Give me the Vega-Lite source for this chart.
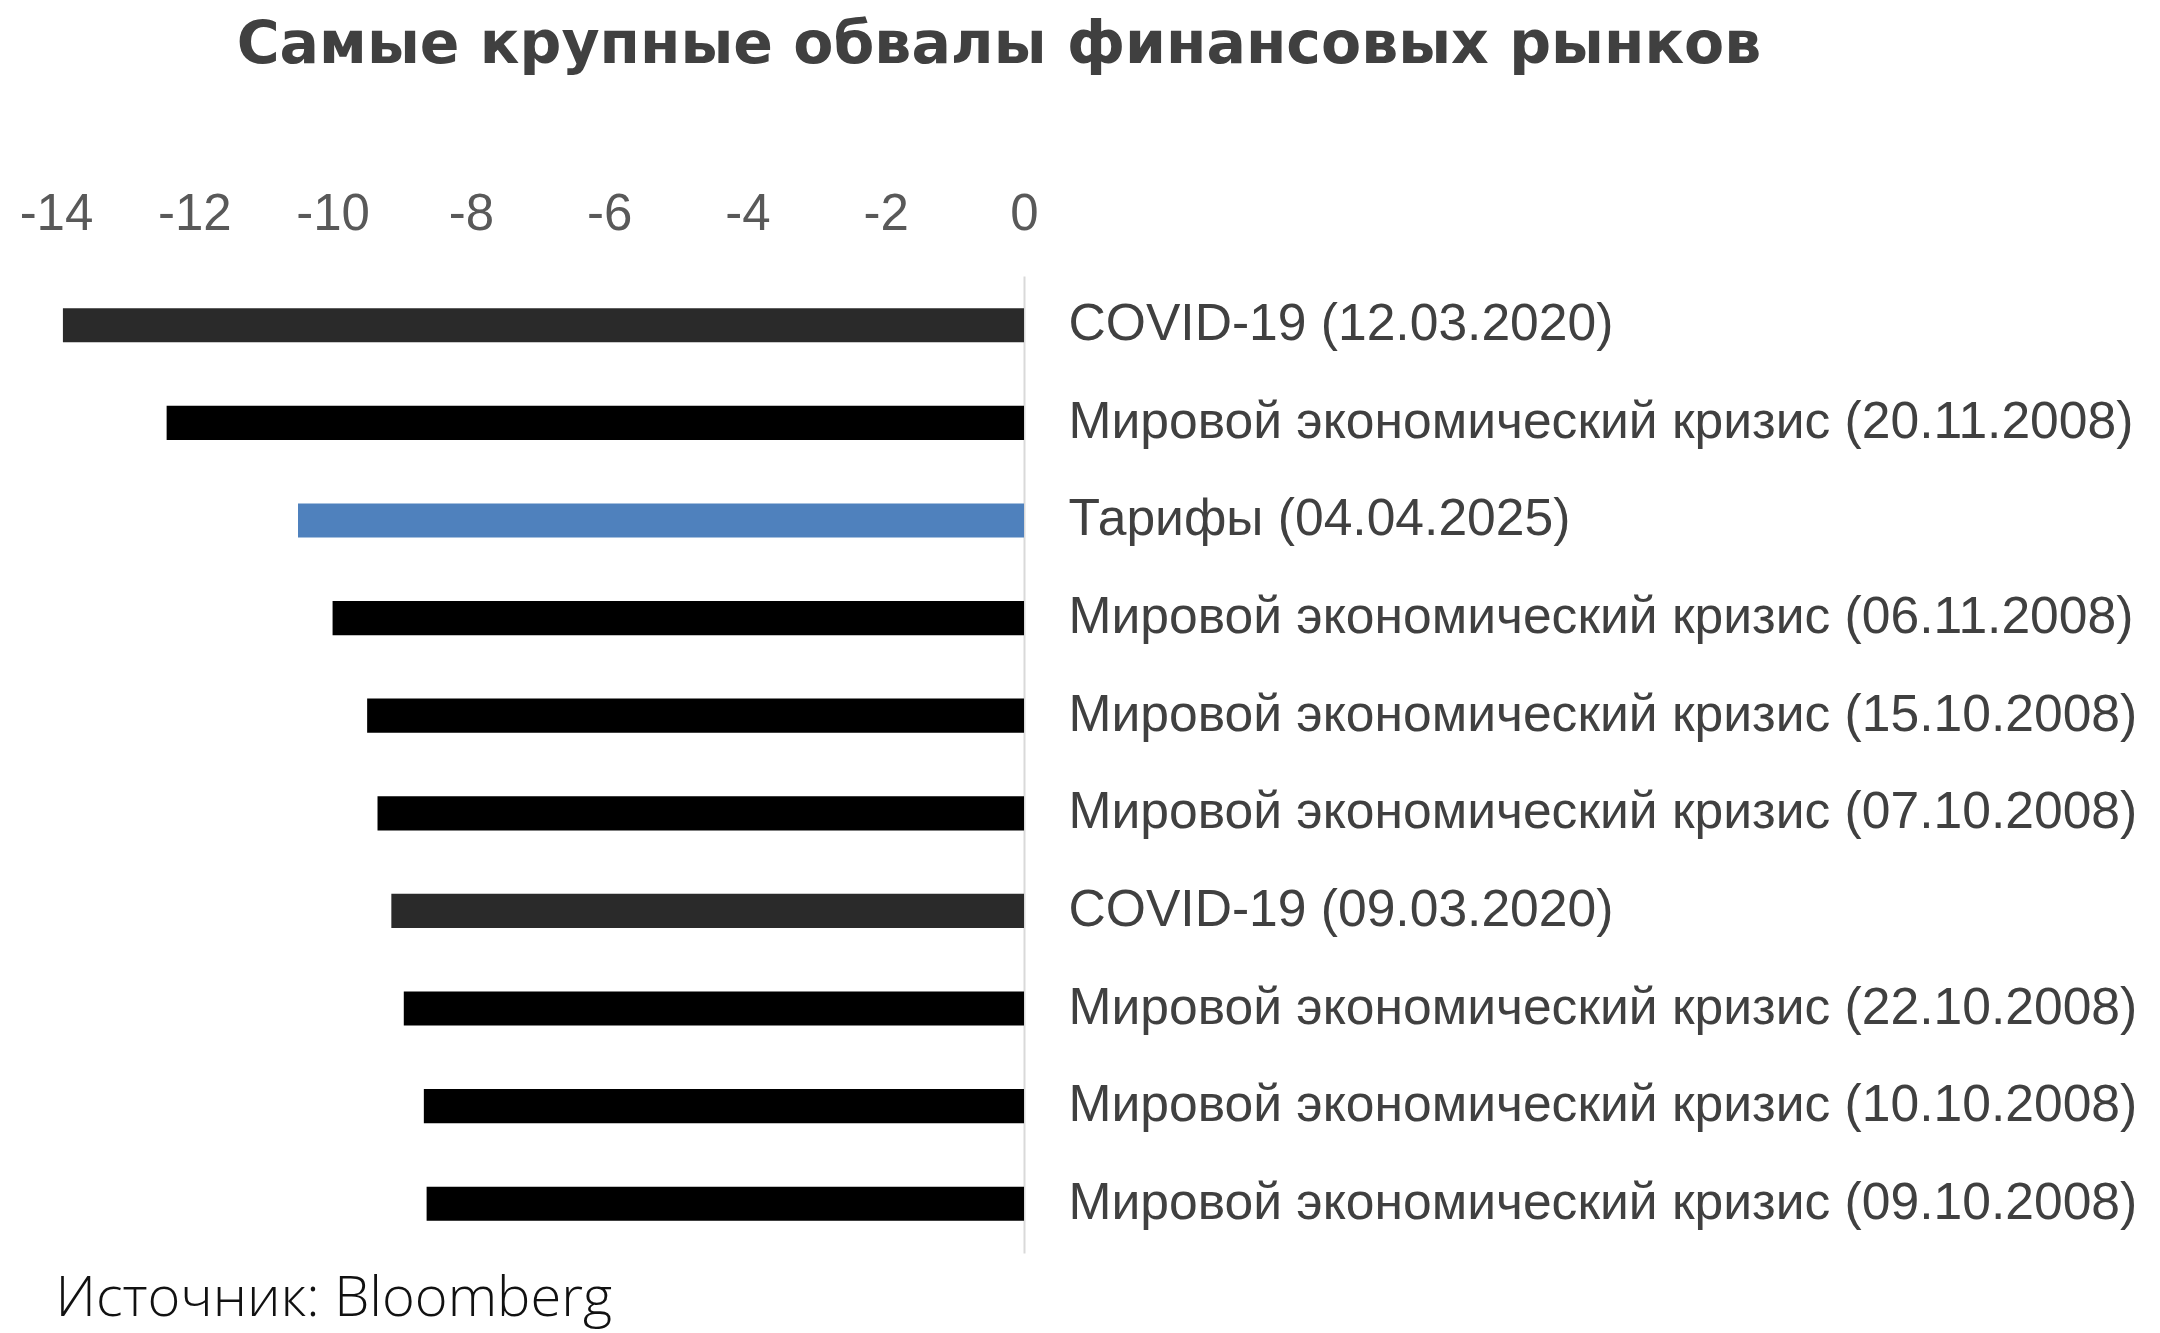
{
  "$schema": "https://vega.github.io/schema/vega-lite/v6.json",
  "autosize": "none",
  "width": 968,
  "height": 977,
  "padding": {"left": 56, "top": 276, "right": 1136, "bottom": 80},
  "background": "#ffffff",
  "view": {"stroke": null},
  "title": {
    "text": "Самые крупные обвалы финансовых рынков",
    "font": "DejaVu Sans",
    "fontWeight": "bold",
    "fontSize": 58.5,
    "color": "#404040",
    "anchor": "middle",
    "frame": "group",
    "dx": 459,
    "offset": 113
  },
  "data": {
    "values": [
      {"event": "COVID-19 (12.03.2020)", "change": -13.9, "type": "covid"},
      {"event": "Мировой экономический кризис (20.11.2008)", "change": -12.4, "type": "crisis"},
      {"event": "Тарифы (04.04.2025)", "change": -10.5, "type": "tariffs"},
      {"event": "Мировой экономический кризис (06.11.2008)", "change": -10.0, "type": "crisis"},
      {"event": "Мировой экономический кризис (15.10.2008)", "change": -9.5, "type": "crisis"},
      {"event": "Мировой экономический кризис (07.10.2008)", "change": -9.35, "type": "crisis"},
      {"event": "COVID-19 (09.03.2020)", "change": -9.15, "type": "covid"},
      {"event": "Мировой экономический кризис (22.10.2008)", "change": -8.97, "type": "crisis"},
      {"event": "Мировой экономический кризис (10.10.2008)", "change": -8.68, "type": "crisis"},
      {"event": "Мировой экономический кризис (09.10.2008)", "change": -8.64, "type": "crisis"}
    ]
  },
  "layer": [
    {
      "mark": {"type": "bar"},
      "encoding": {
        "y": {
          "field": "event",
          "type": "nominal",
          "sort": null,
          "scale": {"paddingInner": 0.65, "paddingOuter": 0.33},
          "axis": {
            "orient": "right",
            "title": null,
            "ticks": false,
            "grid": false,
            "domain": true,
            "domainColor": "#d9d9d9",
            "domainWidth": 2,
            "labelPadding": 44,
            "labelFont": "Liberation Sans",
            "labelFontSize": 51.6,
            "labelColor": "#404040",
            "labelLimit": 1200
          }
        },
        "x": {
          "field": "change",
          "type": "quantitative",
          "scale": {"domain": [-14, 0], "nice": false},
          "axis": {
            "orient": "top",
            "title": null,
            "values": [-14, -12, -10, -8, -6, -4, -2, 0],
            "labelExpr": "replace(datum.label, '\u2212', '-')",
            "ticks": false,
            "grid": false,
            "domain": false,
            "labelPadding": 36,
            "labelFont": "Liberation Sans",
            "labelFontSize": 51,
            "labelColor": "#595959",
            "labelFlush": false
          }
        },
        "color": {
          "field": "type",
          "type": "nominal",
          "scale": {
            "domain": ["covid", "crisis", "tariffs"],
            "range": ["#2a2a2a", "#000000", "#4f81bd"]
          },
          "legend": null
        }
      }
    },
    {
      "mark": {"type": "rule", "strokeOpacity": 0},
      "encoding": {
        "x": {
          "datum": 0,
          "type": "quantitative",
          "axis": {
            "orient": "bottom",
            "title": "Источник: Bloomberg",
            "labels": false,
            "ticks": false,
            "grid": false,
            "domain": false,
            "titleFont": "Open Sans",
            "titleFontWeight": 300,
            "titleFontSize": 56,
            "titleColor": "#111111",
            "titleAnchor": "start",
            "titleAlign": "left",
            "titleBaseline": "alphabetic",
            "titleX": -1,
            "titleY": 62
          }
        }
      }
    }
  ],
  "resolve": {"axis": {"x": "independent"}}
}
